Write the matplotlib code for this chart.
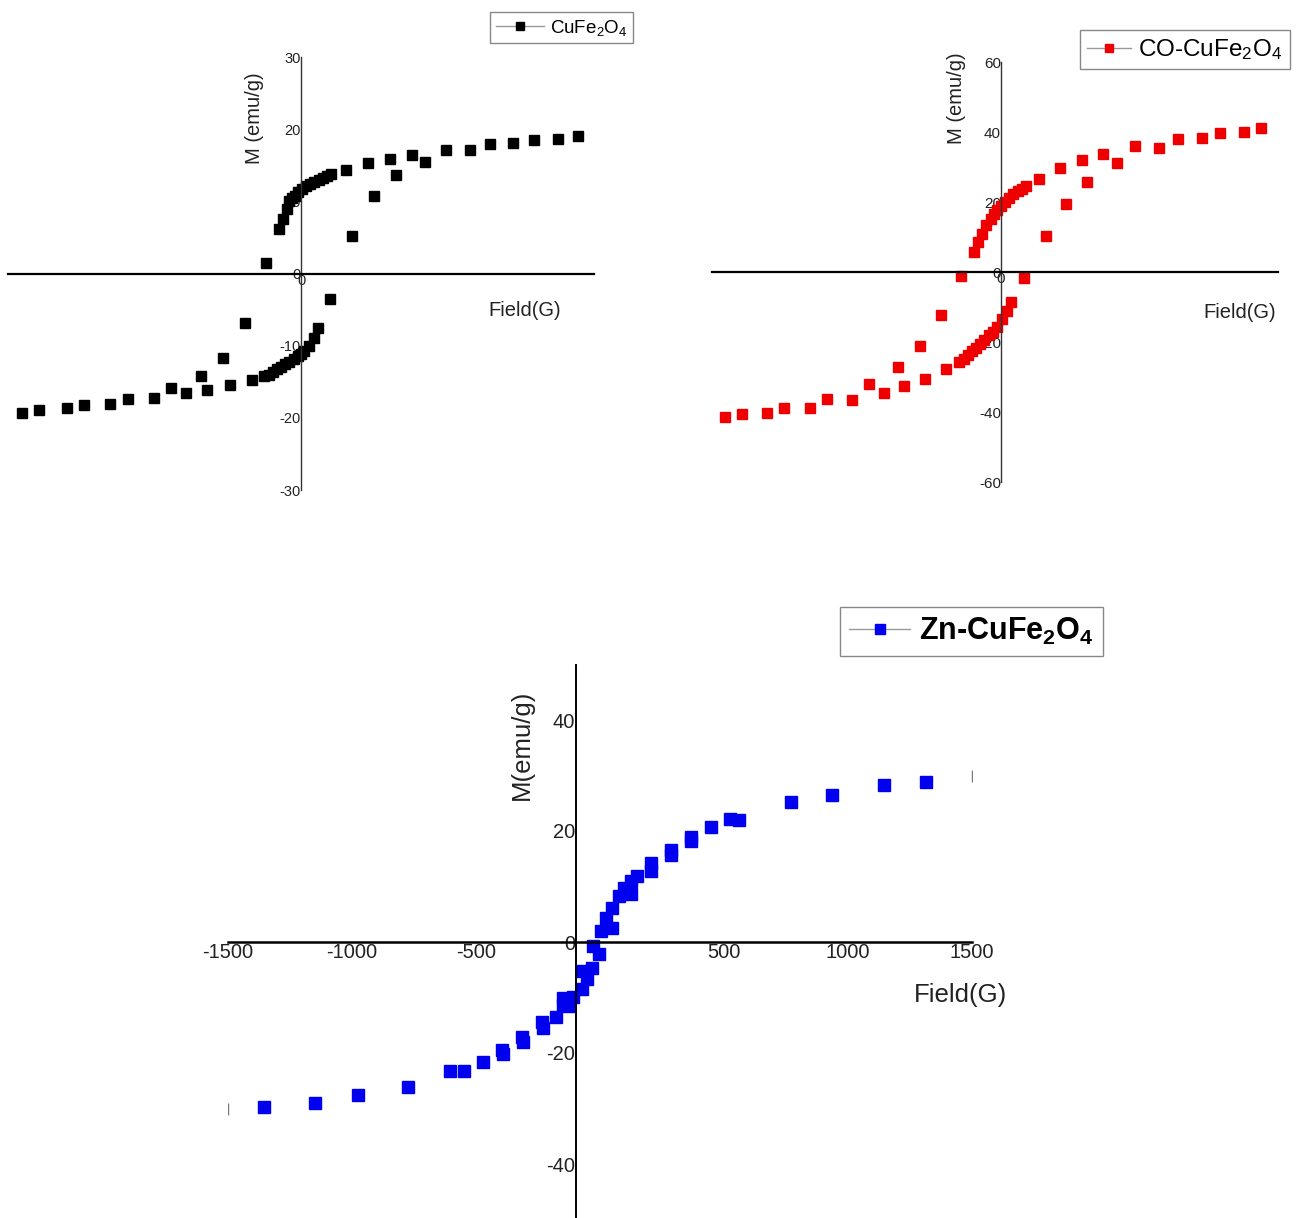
import matplotlib
matplotlib.use("Agg")
import matplotlib.pyplot as plt
from matplotlib.lines import Line2D

plt.rcParams["font.family"] = ["Liberation Sans", "DejaVu Sans"]
plt.rcParams["mathtext.default"] = "regular"
plt.rcParams["axes.unicode_minus"] = False

# CuFe2O4 loop (field in G, M in emu/g)
field_cu = [1416, 1315, 1194, 1087, 968, 863, 742, 637, 569, 456, 345, 232,
            154, 132, 111, 90, 68, 47, 26, 4, -13, -30, -47, -60,
            -70, -92, -115, -177, -288, -401, -514,
            488, 373, 260, 149, 85, 64, 43, 15, 0, -17, -38, -60, -81,
            -102, -124, -145, -166, -188,
            -252, -365, -480, -591, -667, -755, -887, -979, -1113, -1200, -1339, -1428]
moment_cu = [19.0, 18.7, 18.5, 18.1, 18.0, 17.1, 17.1, 15.5, 16.4, 15.8, 15.3, 14.4,
             13.8, 13.5, 13.3, 13.0, 12.7, 12.4, 12.1, 11.7, 11.3, 10.8, 10.4, 10.0,
             8.9, 7.6, 6.1, 1.5, -6.8, -11.7, -14.2,
             13.6, 10.7, 5.2, -3.6, -7.6, -8.9, -10.0, -10.8, -11.2, -11.5, -11.9, -12.3, -12.6,
             -12.9, -13.3, -13.6, -14.0, -14.2,
             -14.7, -15.5, -16.1, -16.6, -15.9, -17.3, -17.4, -18.1, -18.2, -18.7, -18.9, -19.3]

# CO-CuFe2O4 loop
field_co = [1410, 1316, 1187, 1086, 956, 857, 726, 630, 551, 439, 322, 207,
            135, 112, 90, 67, 45, 22, 0, -20, -38, -56, -79, -101, -124, -146,
            -214, -326, -439, -556,
            -297, -414, -524, -636, -715, -805, -942, -1037, -1174, -1266, -1401, -1496,
            -225, -202, -180, -157, -135, -112, -90, -67, -45, -22,
            7, 34, 56, 124, 241, 351, 466]
moment_co = [41.0, 40.0, 39.7, 38.4, 38.0, 35.5, 35.9, 31.1, 33.8, 31.9, 29.7, 26.7,
             24.5, 23.8, 23.1, 22.2, 21.1, 20.0, 18.8, 17.8, 16.7, 15.2, 13.3, 11.0, 8.6, 5.7,
             -1.1, -12.4, -21.2, -27.0,
             -27.8, -30.7, -32.7, -34.5, -31.9, -36.5, -36.3, -38.8, -38.9, -40.3, -40.7, -41.4,
             -25.7, -24.8, -23.8, -22.7, -21.6, -20.5, -19.3, -18.1, -17.0, -15.7,
             -13.3, -11.1, -8.6, -1.6, 10.2, 19.3, 25.7]

# Zn-CuFe2O4 loop
field_zn = [1315, 1146, 937, 769, 560, 524, 446, 366, 366, 285, 285, 204, 204,
            150, 124, 124, 97, 77, 50, 23, 50, 3, -27, -3, -34, -74, -54, -74,
            -108, -148, -148, -127, -177, -235, -229, -316, -309, -394, -390,
            -470, -548, -605, -775, -977, -1149, -1354]
moment_zn = [28.9, 28.2, 26.5, 25.2, 21.9, 22.1, 20.7, 18.9, 18.2, 16.6, 15.7, 14.2, 12.8,
             11.9, 11.0, 8.6, 9.7, 8.2, 6.2, 4.3, 2.5, 1.9, -0.7, -2.2, -4.7, -5.2, -6.7, -8.5,
             -9.9, -10.1, -11.4, -11.5, -13.6, -14.4, -15.5, -17.2, -18.1, -19.5, -20.2,
             -21.7, -23.2, -23.2, -26.1, -27.6, -29.0, -29.7]
end_field_zn = [-1500, 1500]
end_moment_zn = [-30, 30]

yticks_cu = [-30, -20, -10, 0, 10, 20, 30]
yticks_co = [-60, -40, -20, 0, 20, 40, 60]
xticks_zn = [-1500, -1000, -500, 500, 1000, 1500]
yticks_zn = [-40, -20, 0, 20, 40]

W, H = 1302, 1218
fig = plt.figure(figsize=(W / 100, H / 100), dpi=100)


def px_axes(x0, x1, y0, y1):
    # pixel box (top-left origin) -> figure axes
    return fig.add_axes([x0 / W, 1 - y1 / H, (x1 - x0) / W, (y1 - y0) / H])


def cross_axes(ax, xpos=0.0, lw_x=1.6, lw_y=1.0, ycol="#333333"):
    for s in ("top", "right"):
        ax.spines[s].set_visible(False)
    ax.spines["left"].set_position(("data", xpos))
    ax.spines["bottom"].set_position(("data", 0))
    ax.spines["bottom"].set_linewidth(lw_x)
    ax.spines["bottom"].set_color("black")
    ax.spines["left"].set_linewidth(lw_y)
    ax.spines["left"].set_color(ycol)
    ax.tick_params(length=0)
    ax.patch.set_alpha(0)


def legend_box(x0, y0, color, label, size, ms, hl, weight="normal"):
    h = Line2D([], [], color="#999999", lw=1.0, marker="s", ms=ms,
               markerfacecolor=color, markeredgecolor=color)
    fig.legend([h], [label], loc="upper left", bbox_to_anchor=(x0 / W, 1 - y0 / H),
               fancybox=False, edgecolor="#888888", framealpha=1,
               borderaxespad=0, borderpad=0.3, handlelength=hl, handletextpad=0.3,
               prop={"size": size, "weight": weight})


# top-left: CuFe2O4
ax1 = px_axes(8, 594, 57, 490)
ax1.plot(field_cu, moment_cu, "s", color="black", ms=6.5, ls="none")
ax1.set_xlim(-1500, 1500)
ax1.set_ylim(-30, 30)
cross_axes(ax1)
ax1.set_yticks(yticks_cu)
ax1.set_xticks([0])
ax1.tick_params(axis="both", labelsize=10.5, pad=0, labelcolor="#222222")
fig.text(255 / W, 1 - 118 / H, "M (emu/g)", rotation=90, ha="center", va="center",
         fontsize=14.5, color="#222222")
fig.text(525 / W, 1 - 310 / H, "Field(G)", ha="center", va="center",
         fontsize=14.5, color="#222222")
legend_box(490, 12, "black", "CuFe$_2$O$_4$", 13.5, 6, 2.6)

# top-right: CO-CuFe2O4
ax2 = px_axes(712, 1278, 62, 482)
ax2.plot(field_co, moment_co, "s", color="#ee0000", ms=6.5, ls="none")
ax2.set_xlim(-1565, 1500)
ax2.set_ylim(-60, 60)
cross_axes(ax2)
ax2.set_yticks(yticks_co)
ax2.set_xticks([0])
ax2.tick_params(axis="both", labelsize=11, pad=0, labelcolor="#222222")
fig.text(957 / W, 1 - 98 / H, "M (emu/g)", rotation=90, ha="center", va="center",
         fontsize=14.5, color="#222222")
fig.text(1240 / W, 1 - 312 / H, "Field(G)", ha="center", va="center",
         fontsize=14.5, color="#222222")
legend_box(1080, 30, "#ee0000", "CO-CuFe$_2$O$_4$", 17.5, 6, 1.8)

# bottom: Zn-CuFe2O4
ax3 = px_axes(228, 972, 664.5, 1219.5)
ax3.plot(field_zn, moment_zn, "s", color="#0000ee", ms=8, ls="none")
ax3.plot(end_field_zn, end_moment_zn, "|", color="#777777", ms=9, ls="none")
ax3.set_xlim(-1500, 1500)
ax3.set_ylim(-50, 50)
cross_axes(ax3, xpos=-95, lw_x=1.8, lw_y=1.4, ycol="black")
ax3.set_xticks(xticks_zn)
ax3.set_yticks(yticks_zn)
ax3.tick_params(labelsize=14.5, pad=1, labelcolor="#222222")
fig.text(522 / W, 1 - 745 / H, "M(emu/g)", rotation=90, ha="center", va="center",
         fontsize=18.5, color="#222222")
fig.text(960 / W, 1 - 995 / H, "Field(G)", ha="center", va="center",
         fontsize=18.5, color="#222222")
legend_box(840, 607, "#0000ee", "Zn-CuFe$_2$O$_4$", 22, 7.5, 2.0, weight="bold")

fig.savefig("out.png", dpi=100)
